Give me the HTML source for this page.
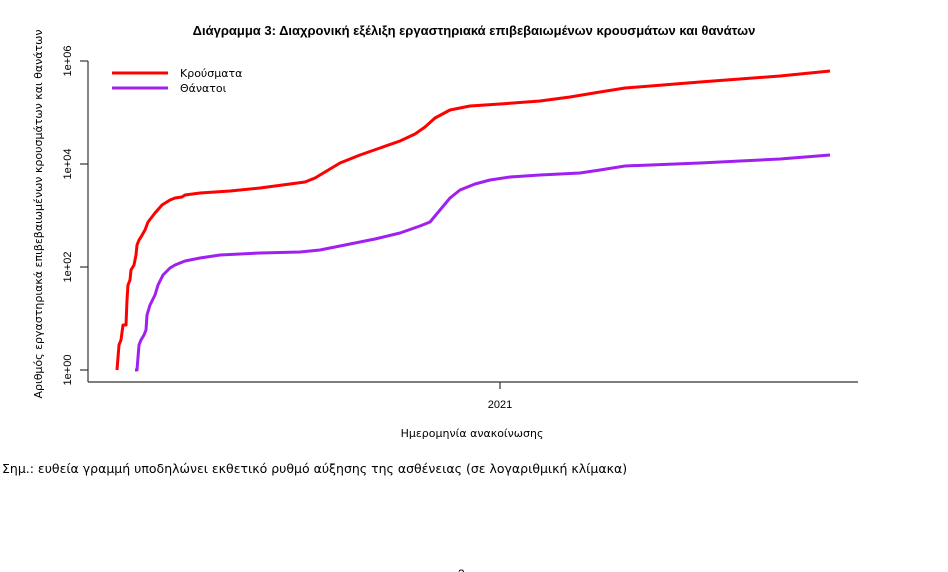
<!DOCTYPE html>
<html><head><meta charset="utf-8"><style>
body{margin:0;background:#fff;}
svg{display:block;font-family:"Liberation Sans","DejaVu Sans",sans-serif;}
.dv{font-family:"DejaVu Sans","Liberation Sans",sans-serif;}
</style></head><body>
<svg width="948" height="572" viewBox="0 0 948 572" xmlns="http://www.w3.org/2000/svg">
<rect width="948" height="572" fill="#fff"/>
<text x="474" y="35" text-anchor="middle" font-size="13" font-weight="bold" fill="#000">Διάγραμμα 3: Διαχρονική εξέλιξη εργαστηριακά επιβεβαιωμένων κρουσμάτων και θανάτων</text>
<g stroke="#333" stroke-width="1.2" fill="none">
<line x1="88" y1="61" x2="88" y2="382"/>
<line x1="80" y1="61" x2="88" y2="61"/>
<line x1="80" y1="164" x2="88" y2="164"/>
<line x1="80" y1="267" x2="88" y2="267"/>
<line x1="80" y1="370" x2="88" y2="370"/>
<line x1="88" y1="382" x2="858" y2="382"/>
<line x1="500" y1="382" x2="500" y2="389"/>
</g>
<g font-size="11" fill="#000" text-anchor="middle">
<text transform="translate(71,61) rotate(-90)">1e+06</text>
<text transform="translate(71,164) rotate(-90)">1e+04</text>
<text transform="translate(71,267) rotate(-90)">1e+02</text>
<text transform="translate(71,370) rotate(-90)">1e+00</text>
<text x="500" y="408">2021</text>
<text class="dv" x="472" y="437">Ημερομηνία ανακοίνωσης</text>
<text class="dv" transform="translate(42,214) rotate(-90)">Αριθμός εργαστηριακά επιβεβαιωμένων κρουσμάτων και θανάτων</text>
</g>
<text class="dv" x="2" y="473" font-size="12.5" fill="#000">Σημ.: ευθεία γραμμή υποδηλώνει εκθετικό ρυθμό αύξησης της ασθένειας (σε λογαριθμική κλίμακα)</text>
<text x="458" y="578" font-size="12" fill="#000">3</text>
<line x1="112" y1="73" x2="168" y2="73" stroke="#ff0000" stroke-width="3"/>
<line x1="112" y1="88" x2="168" y2="88" stroke="#a020f0" stroke-width="3"/>
<text class="dv" x="180" y="77" font-size="11">Κρούσματα</text>
<text class="dv" x="180" y="92" font-size="11">Θάνατοι</text>
<polyline fill="none" stroke="#ff0000" stroke-width="3" stroke-linejoin="round" points="117,370 119,345 121,340 123,325 126,325 127,300 128,285 130,280 131,270 134,265 136,255 137,245 139,240 141,237 145,230 148,222 155,213 162,205 170,200 175,198 182,197 185,195 200,193 230,191 260,188 290,184 305,182 315,178 325,172 340,163 360,155 380,148 400,141 415,134 425,127 435,118 450,110 470,106 500,104 540,101 570,97 600,92 625,88 700,82 780,76 830,71"/>
<polyline fill="none" stroke="#a020f0" stroke-width="3" stroke-linejoin="round" points="135,370 137,370 139,345 141,340 144,335 146,330 147,315 150,305 155,295 158,285 163,275 170,268 175,265 185,261 200,258 220,255 260,253 300,252 320,250 340,246 355,243 375,239 400,233 420,226 430,222 440,210 450,198 460,190 475,184 490,180 510,177 540,175 580,173 600,170 625,166 700,163 780,159 830,155"/>
</svg>
</body></html>
